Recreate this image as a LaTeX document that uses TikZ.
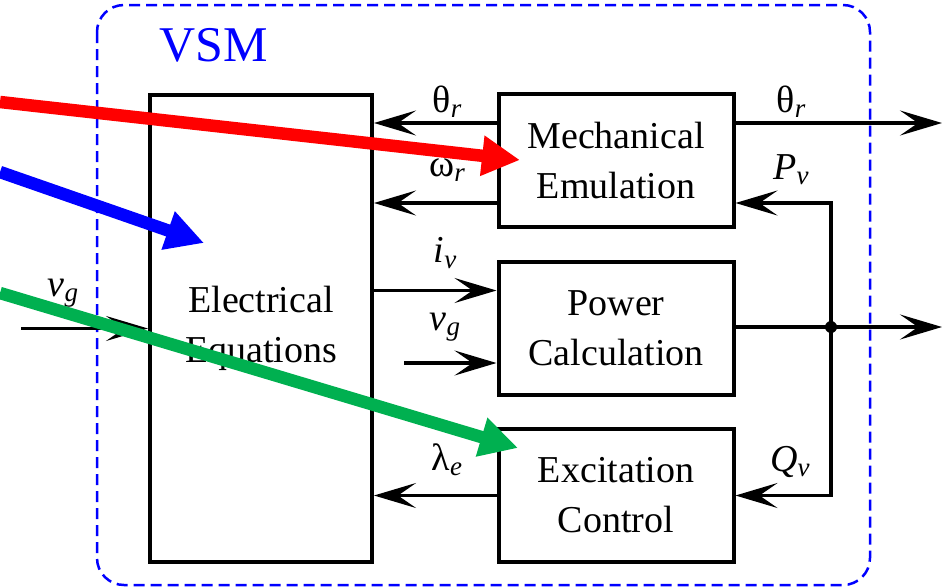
\documentclass[tikz,border=0pt]{standalone}
\usepackage{fontspec}
\setmainfont{Liberation Serif}
\usepackage{xcolor}
\usepackage{tikz}
\usetikzlibrary{arrows.meta, positioning, calc}

\definecolor{vsmblue}{RGB}{0,0,255}
\definecolor{hintred}{RGB}{255,0,0}
\definecolor{hintgreen}{RGB}{0,176,80}

\newcommand{\sigsub}[2]{#1\raisebox{-0.3ex}{\fontsize{27}{27}\selectfont\itshape #2}}

\begin{document}
\begin{tikzpicture}[
  x=1pt, y=-1pt,
  blk/.style   = {draw, line width=4pt, minimum width=235pt, minimum height=133pt,
                  align=center, inner sep=0pt, font=\fontsize{38}{50}\selectfont},
  big/.style   = {draw, line width=4pt, minimum width=222pt, minimum height=467pt,
                  align=center, inner sep=0pt, font=\fontsize{38}{50}\selectfont},
  lbl/.style   = {inner sep=0pt, font=\fontsize{38}{40}\selectfont},
  arr/.style   = {-{Stealth[length=42pt, width=25pt, inset=18pt]}, line width=3.5pt},
  frame/.style = {draw=vsmblue, line width=2.5pt, dash pattern=on 11pt off 6pt,
                  rounded corners=27pt},
  hint/.style  = {-{Triangle[length=38pt, width=38pt]}, line width=12.5pt},
]
\useasboundingbox (0,0) rectangle (942,587);

%% VSM frame
\draw[frame] (97,5) rectangle (870,585);
\node[lbl, text=vsmblue, font=\fontsize{50}{50}\selectfont] (vsm) at (214,45) {VSM};

%% Blocks
\node[big] (elec)  at (261,328.5) {Electrical\\Equations};
\node[blk] (mech)  at (616,160)   {Mechanical\\Emulation};
\node[blk] (power) at (616,328.5) {Power\\Calculation};
\node[blk] (exc)   at (616,495.5) {Excitation\\Control};

%% Mechanical emulation outputs
\draw[arr] ([yshift=37pt]mech.west) -- ([yshift=37pt]mech.west -| elec.east);
\draw[arr] ([yshift=-43pt]mech.west) -- ([yshift=-43pt]mech.west -| elec.east);
\coordinate (thout) at (942,123);
\draw[arr] ([yshift=37pt]mech.east) -- (thout);

%% Power calculation inputs
\draw[arr] ([yshift=38pt]power.west -| elec.east) -- ([yshift=38pt]power.west);
\coordinate (vgstart) at (404,363);
\draw[arr] (vgstart) -- (vgstart -| power.west);

%% Power calculation output and feedback
\coordinate (bus) at (831,327);
\coordinate (pout) at (942,327);
\draw[line width=3.5pt] (power.east |- bus) -- (bus);
\draw[arr] (bus) -- (pout);
\fill (bus) circle (6pt);
\draw[arr] (bus) |- ([yshift=-43pt]mech.east);
\draw[arr] (bus) |- (exc.east);

%% Excitation output
\draw[arr] (exc.west) -- (exc.west -| elec.east);

%% Grid voltage input
\coordinate (vgin) at (21,328.5);
\draw[arr] (vgin) -- (elec.west);

%% Signal labels
\node[lbl] (thl)  at (447,102) {\sigsub{θ}{r}};
\node[lbl] (oml)  at (447,170) {\sigsub{ω}{r}};
\node[lbl] (ivl)  at (445,253) {\sigsub{\textit{i}}{v}};
\node[lbl] (vgl)  at (445,327) {\sigsub{\textit{v}}{g}};
\node[lbl] (lml)  at (447,460) {\sigsub{λ}{e}};
\node[lbl] (thr)  at (791,102) {\sigsub{θ}{r}};
\node[lbl] (pvl)  at (791,170) {\sigsub{\textit{P}}{v}};
\node[lbl] (qvl)  at (790,462) {\sigsub{\textit{Q}}{v}};
\node[lbl] (vgil) at (63,293)  {\sigsub{\textit{v}}{g}};

%% Pointer arrows
\coordinate (redsrc)   at (0,102);
\coordinate (bluesrc)  at (0,172);
\coordinate (greensrc) at (0,293);
\coordinate (redtip)   at (520,160);
\coordinate (bluetip)  at (204,243);
\coordinate (greentip) at (518,448);
\draw[hint, draw=hintred, fill=hintred]       (redsrc)   -- (redtip);
\draw[hint, draw=vsmblue, fill=vsmblue]       (bluesrc)  -- (bluetip);
\draw[hint, draw=hintgreen, fill=hintgreen]   (greensrc) -- (greentip);

\end{tikzpicture}
\end{document}
